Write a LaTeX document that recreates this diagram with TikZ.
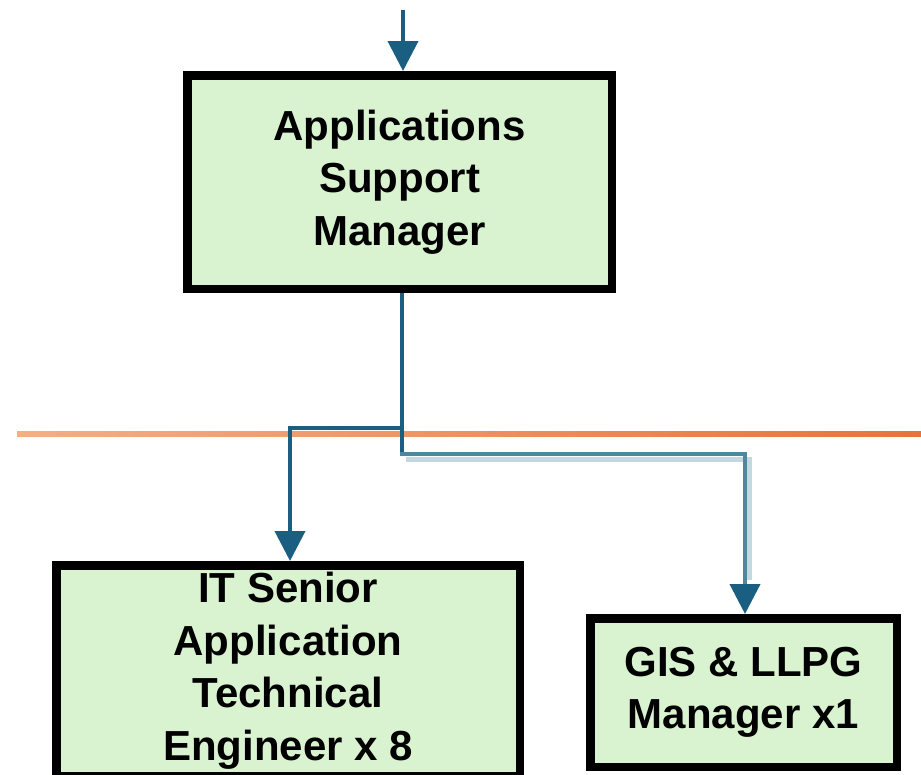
\documentclass[tikz,border=0pt]{standalone}
\usepackage{fontspec}
\setmainfont{Liberation Sans}
\usepackage{tikz}
\usetikzlibrary{arrows.meta}

\definecolor{boxgreen}{HTML}{D9F2D0}
\definecolor{linkblue}{HTML}{1A5E82}
\definecolor{linkpale}{HTML}{4E88A0}
\definecolor{linkshade}{HTML}{C4D8E0}
\definecolor{rulelight}{HTML}{F4AE88}
\definecolor{ruledark}{HTML}{E8733A}

\begin{document}
\begin{tikzpicture}[x=1pt, y=-1pt,
		rolebox/.style={draw=black, line width=8.5pt, fill=boxgreen, inner sep=0pt,
			align=center, font=\fontsize{42}{52.5}\selectfont\bfseries},
		link/.style={line width=4pt, linkblue,
			-{Triangle[width=30pt, length=30pt, color=linkblue]}},
		trunk/.style={line width=4pt, linkblue},
		shadelink/.style={line width=5pt, linkshade}]
			\useasboundingbox (0, 0) rectangle (921, 774);

			\shade [left color=rulelight, right color=ruledark] (17, 431.5)
			rectangle (921, 436.5);

			\node [rolebox, minimum width=424.5pt, minimum height=213.5pt] (asm)
			at (399.5, 182) {Applications\\Support\\Manager};

			\node [rolebox, minimum width=463.5pt, minimum height=210.5pt] (isa)
			at (288, 670.5) {IT Senior\\Application\\Technical\\Engineer x 8};

			\node [rolebox, minimum width=306.5pt, minimum height=148.5pt] (gis)
			at (743.5, 692.5) {GIS \& LLPG\\Manager x1};

			\coordinate (feed) at (403, 10);
			\coordinate (fork) at (402, 428);
			\coordinate (bend) at (402, 454);

			\draw [link] (feed) -- (feed |- asm.north);

			\draw [shadelink] ([shift={(4, 5)}]bend) -| ([shift={(5.5, -34)}]gis.north);
			\draw [link] (fork |- asm.south) -- (fork) -| ([xshift=2pt]isa.north);
			\draw [trunk] (fork) -- (bend);
			\draw [link, linkpale] ([xshift=-2pt]bend) -| ([xshift=1.5pt]gis.north);
		\end{tikzpicture}
\end{document}
